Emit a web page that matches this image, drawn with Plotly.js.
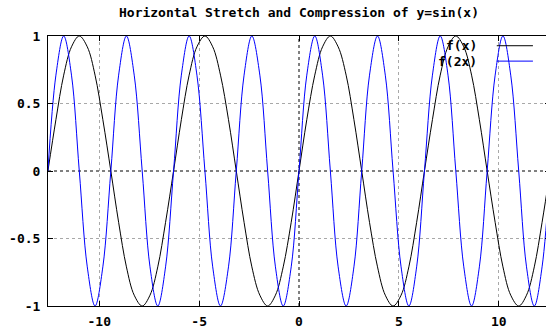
<!DOCTYPE html>
<html>
<head>
<meta charset="utf-8">
<script src="https://cdn.plot.ly/plotly-3.0.1.min.js"></script>
<style>
html,body{margin:0;padding:0;overflow:hidden;background:#fff;}
#chart{width:552px;height:330px;}
</style>
</head>
<body>
<div id="chart"></div>
<script>
// x samples (step pi/8 over [-4pi, 4pi])
const xs = [-12.57,-12.17,-11.78,-11.39,-11.00,-10.60,-10.21,-9.82,-9.42,-9.03,-8.64,-8.25,-7.85,-7.46,-7.07,-6.68,
  -6.28,-5.89,-5.50,-5.11,-4.71,-4.32,-3.93,-3.53,-3.14,-2.75,-2.36,-1.96,-1.57,-1.18,-0.79,-0.39,
  0,
  0.39,0.79,1.18,1.57,1.96,2.36,2.75,3.14,3.53,3.93,4.32,4.71,5.11,5.50,5.89,
  6.28,6.68,7.07,7.46,7.85,8.25,8.64,9.03,9.42,9.82,10.21,10.60,11.00,11.39,11.78,12.17,12.57];
// f(x) values
const fx = [0,0.38,0.71,0.92,1,0.92,0.71,0.38,0,-0.38,-0.71,-0.92,-1,-0.92,-0.71,-0.38,
  0,0.38,0.71,0.92,1,0.92,0.71,0.38,0,-0.38,-0.71,-0.92,-1,-0.92,-0.71,-0.38,
  0,0.38,0.71,0.92,1,0.92,0.71,0.38,0,-0.38,-0.71,-0.92,-1,-0.92,-0.71,-0.38,
  0,0.38,0.71,0.92,1,0.92,0.71,0.38,0,-0.38,-0.71,-0.92,-1,-0.92,-0.71,-0.38,
  0];
// f(2x) values
const f2x = [0,0.71,1,0.71,0,-0.71,-1,-0.71, 0,0.71,1,0.71,0,-0.71,-1,-0.71,
  0,0.71,1,0.71,0,-0.71,-1,-0.71, 0,0.71,1,0.71,0,-0.71,-1,-0.71,
  0,0.71,1,0.71,0,-0.71,-1,-0.71, 0,0.71,1,0.71,0,-0.71,-1,-0.71,
  0,0.71,1,0.71,0,-0.71,-1,-0.71, 0,0.71,1,0.71,0,-0.71,-1,-0.71,
  0];
const seriesNames = ["f(x)", "f(2x)"];
const seriesColors = ["#000000", "#0000ff"];
const xTickVals = [-10,-5,0,5,10];
const xTickText = ["-10","-5","0","5","10"];
const yTickVals = [-1,-0.5,0,0.5,1];
const yTickText = ["-1","-0.5","0","0.5","1"];
const titleText = "Horizontal Stretch and Compression of y=sin(x)";

const font = {family: "DejaVu Sans Mono, monospace", size: 13, color: "#000", weight: "bold"};

const traces = [
  {x: xs, y: fx, name: seriesNames[0], mode: "lines", line: {color: seriesColors[0], width: 1, shape: "spline", smoothing: 1}},
  {x: xs, y: f2x, name: seriesNames[1], mode: "lines", line: {color: seriesColors[1], width: 1, shape: "spline", smoothing: 1}}
];

const legY = [0.964, 0.907];
const annotations = seriesNames.map((n, i) => ({
  text: n, xref: "paper", yref: "paper", x: 0.859, y: legY[i],
  xanchor: "right", yanchor: "middle", showarrow: false, font: font
}));
const shapes = seriesNames.map((n, i) => ({
  type: "line", xref: "paper", yref: "paper", x0: 0.894, x1: 0.966, y0: legY[i], y1: legY[i],
  line: {color: seriesColors[i], width: 1}
}));
// zero axes (dotted black)
shapes.push({type: "line", xref: "x", yref: "paper", x0: 0, x1: 0, y0: 0, y1: 1, line: {color: "#000", width: 1, dash: "dot"}, layer: "below"});
shapes.push({type: "line", xref: "paper", yref: "y", x0: 0, x1: 1, y0: 0, y1: 0, line: {color: "#000", width: 1, dash: "dot"}, layer: "below"});

const layout = {
  width: 552, height: 330, autosize: false,
  margin: {l: 48, r: 2, t: 36, b: 24},
  paper_bgcolor: "#fff", plot_bgcolor: "#fff",
  font: font,
  showlegend: false,
  title: {text: titleText, font: font, x: 0.5, xref: "paper", xanchor: "center", y: 1, yref: "container", yanchor: "top", pad: {t: 8}},
  xaxis: {
    range: [-12.566, 12.566], tickvals: xTickVals, ticktext: xTickText,
    showline: true, linecolor: "#000", linewidth: 1, mirror: "ticks",
    ticks: "inside", ticklen: 5, tickcolor: "#000",
    showgrid: true, gridcolor: "#a8a8a8", griddash: "dot", gridwidth: 1,
    zeroline: true, zerolinecolor: "rgba(0,0,0,0)", tickfont: font, ticklabelstandoff: 3
  },
  yaxis: {
    range: [-1, 1], tickvals: yTickVals, ticktext: yTickText,
    showline: true, linecolor: "#000", linewidth: 1, mirror: "ticks",
    ticks: "inside", ticklen: 5, tickcolor: "#000",
    showgrid: true, gridcolor: "#a8a8a8", griddash: "dot", gridwidth: 1,
    zeroline: true, zerolinecolor: "rgba(0,0,0,0)", tickfont: font, ticklabelstandoff: 4
  },
  annotations: annotations,
  shapes: shapes
};

Plotly.newPlot("chart", traces, layout, {displayModeBar: false, staticPlot: true});
</script>
</body>
</html>
